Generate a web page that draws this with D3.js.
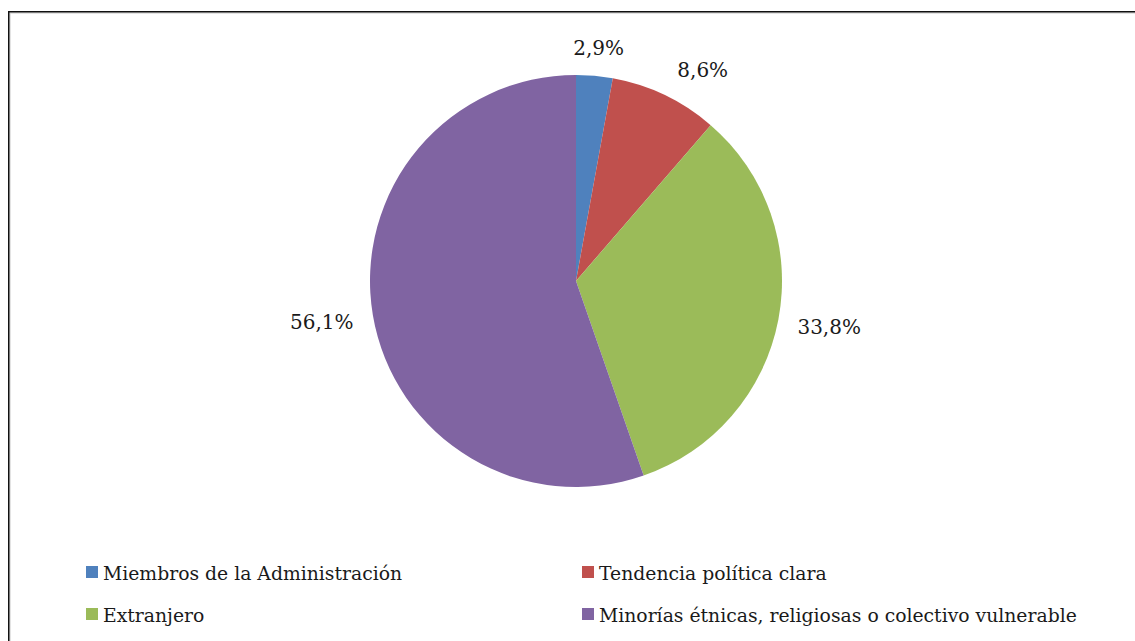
<!DOCTYPE html>
<html>
<head>
<meta charset="utf-8">
<script src="https://cdn.jsdelivr.net/npm/d3@7"></script>
<style>
  html, body { margin: 0; padding: 0; background: #ffffff; }
  svg { display: block; }
  text { font-family: "DejaVu Serif", serif; fill: #1a1a1a; }
</style>
</head>
<body>
<svg id="chart" width="1135" height="641"></svg>
<script>
// Categories and their shares (%)
const categories = [
  "Miembros de la Administración",
  "Tendencia política clara",
  "Extranjero",
  "Minorías étnicas, religiosas o colectivo vulnerable"
];
const values = [2.9, 8.6, 33.8, 56.1];
const valueLabels = ["2,9%", "8,6%", "33,8%", "56,1%"];
const colors = ["#4F81BD", "#C0504D", "#9BBB59", "#8064A2"];

const W = 1135, H = 641;
const svg = d3.select("#chart");

// Outer frame
svg.append("rect")
  .attr("x", 10).attr("y", 13).attr("width", W + 20).attr("height", H + 20)
  .attr("fill", "none").attr("stroke", "#c8c8c8").attr("stroke-width", 1);
svg.append("rect")
  .attr("x", 8.75).attr("y", 11.75).attr("width", W + 20).attr("height", H + 20)
  .attr("fill", "none").attr("stroke", "#111111").attr("stroke-width", 1.5);

// Pie
const cx = 576, cy = 281, R = 206;
const pie = d3.pie().sort(null).value(d => d);
const arcs = pie(values);
const arc = d3.arc().innerRadius(0).outerRadius(R);

const g = svg.append("g").attr("transform", `translate(${cx},${cy})`);
g.selectAll("path.slice")
  .data(arcs)
  .join("path")
  .attr("class", "slice")
  .attr("d", arc)
  .attr("fill", (d, i) => colors[i]);

// Outside-end value labels
const labelSize = 20;
const legendSize = 18.8;
const gap = 20;
const labels = g.selectAll("text.val")
  .data(arcs)
  .join("text")
  .attr("class", "val")
  .attr("text-anchor", "middle")
  .attr("dominant-baseline", "central")
  .style("font-size", labelSize + "px")
  .text((d, i) => valueLabels[i]);

let prevBox = null;
labels.each(function(d) {
  const bb = this.getBBox();
  const a = (d.startAngle + d.endAngle) / 2;
  const s = Math.sin(a), c = -Math.cos(a);
  let x = (R + gap) * s + (bb.width / 2) * s;
  let y = (R + gap) * c + (bb.height / 2 - 2) * c + 2;
  // push a small label sideways when it crowds its neighbour above
  if (prevBox && x > prevBox.x && Math.abs(y - prevBox.y) < bb.height * 1.5) {
    x = Math.max(x, prevBox.x + prevBox.w * 4.1);
  }
  prevBox = { x, y, w: bb.width / 2 };
  d3.select(this).attr("x", x).attr("y", y);
});

// Legend
const legendCols = [86, 582];
const legendRows = [572, 614];
const lg = svg.append("g");
categories.forEach((name, i) => {
  const lx = legendCols[i % 2], ly = legendRows[Math.floor(i / 2)];
  lg.append("rect")
    .attr("x", lx).attr("y", ly - 6).attr("width", 12).attr("height", 12)
    .attr("fill", colors[i]);
  lg.append("text")
    .attr("x", lx + 17).attr("y", ly + 1)
    .attr("dominant-baseline", "central")
    .style("font-size", legendSize + "px")
    .text(name);
});
</script>
</body>
</html>
